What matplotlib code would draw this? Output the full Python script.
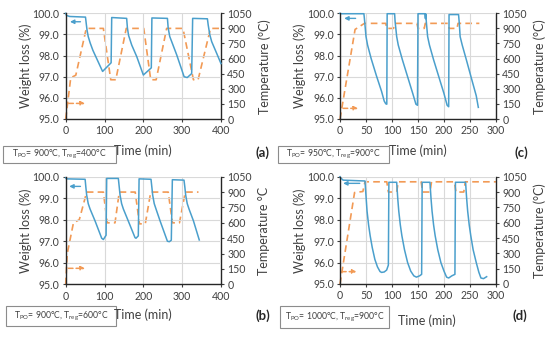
import matplotlib
matplotlib.use("Agg")
import matplotlib.pyplot as plt
from matplotlib.patches import Rectangle

plt.rcParams['font.family'] = ['Lato', 'DejaVu Sans']
plt.rcParams['mathtext.fontset'] = 'custom'
plt.rcParams['mathtext.rm'] = 'Lato'
plt.rcParams['mathtext.it'] = 'Lato:italic'

# ---------------- data ----------------
# (a) TPO=900, Treg=400
a_wt_t = [0, 2, 10, 51, 53, 55, 58, 63, 70, 80, 95, 117, 118.5, 157, 159, 162, 170, 183, 200, 220.5, 222,
          262, 264, 268, 273, 286, 305, 313, 324.5, 327, 365, 367, 371, 376, 389, 400]
a_wt = [100.0, 99.9, 99.85, 99.82, 99.5, 99.2, 98.9, 98.6, 98.25, 97.85, 97.25, 97.66, 99.8, 99.76, 99.3,
        98.95, 98.5, 97.95, 97.08, 97.42, 99.78, 99.76, 99.3, 98.9, 98.66, 98.03, 97.0, 96.96, 97.15, 99.76,
        99.74, 99.45, 99.0, 98.66, 98.1, 97.62]
a_temp_t = [0, 13, 26, 53, 97, 116, 129, 156, 201, 219, 233, 260, 302, 329, 341, 373, 400]
a_temp = [0, 410, 435, 900, 900, 390, 390, 900, 900, 390, 390, 900, 900, 390, 390, 900, 900]

# (b) TPO=900, Treg=600
b_wt_t = [0, 2, 50, 52, 54, 58, 62.7, 75.5, 92.7, 97, 104, 105.6, 135.6, 138, 140, 144, 148.5, 161, 178.5,
          181, 187, 189, 219.7, 222, 224, 228, 232.6, 243, 262, 267, 272, 274.7, 304.7, 307, 309, 313, 317.6,
          329, 344]
b_wt = [99.95, 99.9, 99.88, 99.5, 99.15, 98.75, 98.5, 97.95, 97.14, 97.08, 97.28, 99.92, 99.92, 99.5, 99.15,
        98.75, 98.5, 97.95, 97.17, 97.14, 97.25, 99.9, 99.88, 99.5, 99.15, 98.75, 98.5, 97.95, 97.0, 96.98,
        97.05, 99.86, 99.84, 99.5, 99.15, 98.75, 98.5, 97.95, 97.06]
b_temp_t = [0, 4, 20, 35, 54, 97, 107, 127, 138, 179, 190, 205, 219, 264, 275, 293, 308, 342]
b_temp = [0, 300, 600, 630, 900, 900, 600, 600, 900, 900, 590, 590, 900, 900, 600, 600, 900, 900]

# (c) TPO=950, Treg=900
c_wt_t = [0, 1, 46, 47.5, 50, 53, 60, 70, 80, 85, 88, 90, 90.7, 105, 106, 109, 112, 120, 130, 140, 146, 149,
          150, 163, 164.3, 165, 166, 168.5, 172, 180, 190, 200, 206, 209, 209.7, 228, 229.5, 231, 235, 243,
          253, 262, 266]
c_wt = [100.0, 99.98, 99.98, 99.6, 98.9, 98.5, 97.85, 97.05, 96.3, 95.85, 95.72, 95.7, 99.98, 99.98, 99.6,
        98.9, 98.5, 97.8, 97.0, 96.2, 95.7, 95.65, 99.98, 99.98, 99.75, 99.97, 99.6, 98.9, 98.5, 97.8, 97.0,
        96.2, 95.65, 95.58, 99.94, 99.94, 99.5, 98.9, 98.5, 97.8, 96.9, 96.1, 95.55]
c_temp_t = [0, 29, 47, 88, 90, 103, 105, 148, 150, 162, 164, 208, 210, 225, 227, 268]
c_temp = [0, 890, 950, 950, 900, 900, 950, 950, 900, 900, 950, 950, 900, 900, 950, 950]

# (d) TPO=1000, Treg=900
d_wt_t = [0, 1, 6, 48, 50, 52, 55, 58, 62, 67, 72, 77, 80, 85, 89.7, 93, 94, 109, 111, 113, 116, 119, 124,
          130, 136, 142, 147, 153, 157, 158, 173, 175, 177, 180, 183, 188, 194, 200, 205, 209, 215, 221, 222,
          241.5, 243.5, 245.5, 248.5, 251.5, 256, 262, 267, 271, 276, 282]
d_wt = [100.0, 99.95, 99.84, 99.8, 99.1, 98.4, 97.75, 97.25, 96.7, 96.15, 95.8, 95.58, 95.54, 95.56, 95.65,
        95.88, 99.74, 99.74, 99.0, 98.4, 97.75, 97.25, 96.6, 96.0, 95.6, 95.38, 95.32, 95.38, 95.45, 99.74,
        99.74, 99.0, 98.4, 97.75, 97.25, 96.6, 96.0, 95.6, 95.32, 95.28, 95.38, 95.45, 99.74, 99.74, 99.0,
        98.4, 97.75, 97.25, 96.6, 96.0, 95.55, 95.28, 95.25, 95.34]
d_temp_t = [0, 28, 44, 48, 90, 93, 109, 112, 156, 159, 173, 176, 220, 223, 238, 241, 300]
d_temp = [0, 895, 905, 1000, 1000, 900, 900, 1000, 1000, 900, 900, 1000, 1000, 900, 900, 1000, 1000]

# axis ticks
x_ticks_ab = [0, 100, 200, 300, 400]
x_ticks_cd = [0, 50, 100, 150, 200, 250, 300]
wt_ticks = [95.0, 96.0, 97.0, 98.0, 99.0, 100.0]
temp_ticks = [0, 150, 300, 450, 600, 750, 900, 1050]

# conditions text and panel tags
cond_a = r"T$_{\rm PO}$= 900°C, T$_{\rm reg}$=400°C"
cond_b = r"T$_{\rm PO}$= 900°C, T$_{\rm reg}$=600°C"
cond_c = r"T$_{\rm PO}$= 950°C, T$_{\rm reg}$=900°C"
cond_d = r"T$_{\rm PO}$= 1000°C, T$_{\rm reg}$=900°C"

# indicator arrows: (wt arrow: t_tail, t_head, wt), (temp arrow: t_tail, t_head, temp)
arr_a = [(38, 11, 99.6), (8, 50, 155)]
arr_b = [(38, 9, 99.55), (7, 50, 156)]
arr_c = [(30, 8, 99.76), (6, 35, 106)]
arr_d = [(38, 6, 99.69), (3, 32, 121)]

BLUE = '#4A9FCC'
ORANGE = '#F29A55'
TXT = '#404040'
GRID = '#D9D9D9'

W, H = 550, 340
fig = plt.figure(figsize=(5.5, 3.4), dpi=100)


def px_axes(l, t, r, b):
    return [l / W, 1 - b / H, (r - l) / W, (b - t) / H]


panels = [
    dict(rect=px_axes(65.7, 13.3, 221, 119), wt_t=a_wt_t, wt=a_wt, tt=a_temp_t, tv=a_temp, xt=x_ticks_ab,
         xmax=400, rlabel='Temperature (°C)', cond=cond_a, box=(3, 146, 116, 163), tag='(a)', tagpos=(262, 153),
         timepos=(143, 151), arr=arr_a),
    dict(rect=px_axes(65.7, 176.7, 221, 284.3), wt_t=b_wt_t, wt=b_wt, tt=b_temp_t, tv=b_temp, xt=x_ticks_ab,
         xmax=400, rlabel='Temperature °C', cond=cond_b, box=(6, 306, 116, 326), tag='(b)', tagpos=(263, 316),
         timepos=(143, 315), arr=arr_b),
    dict(rect=px_axes(340, 13.3, 496, 119), wt_t=c_wt_t, wt=c_wt, tt=c_temp_t, tv=c_temp, xt=x_ticks_cd,
         xmax=300, rlabel='Temperature (°C)', cond=cond_c, box=(278, 146, 389, 163), tag='(c)', tagpos=(521, 153),
         timepos=(418, 151), arr=arr_c),
    dict(rect=px_axes(340, 176.7, 496, 284), wt_t=d_wt_t, wt=d_wt, tt=d_temp_t, tv=d_temp, xt=x_ticks_cd,
         xmax=300, rlabel='Temperature (°C)', cond=cond_d, box=(280, 306, 389, 328), tag='(d)', tagpos=(520, 316),
         timepos=(427, 321), arr=arr_d),
]

for p in panels:
    ax = fig.add_axes(p['rect'])
    ax2 = ax.twinx()
    ax.set_zorder(ax2.get_zorder() + 1)
    ax.patch.set_visible(False)

    ax.set_xlim(0, p['xmax'])
    ax.set_ylim(95, 100)
    ax2.set_ylim(0, 1050)
    ax.set_xticks(p['xt'])
    ax.set_yticks(wt_ticks)
    ax.set_yticklabels([f"{v:.1f}" for v in wt_ticks])
    ax2.set_yticks(temp_ticks)
    ax.grid(True, color=GRID, lw=0.8)
    ax.set_axisbelow(True)

    for a in (ax, ax2):
        for s in a.spines.values():
            s.set_visible(False)
    ax.spines['left'].set_visible(True)
    ax.spines['bottom'].set_visible(True)
    ax2.spines['right'].set_visible(True)
    for s in (ax.spines['left'], ax.spines['bottom'], ax2.spines['right']):
        s.set_color('#262626')
        s.set_linewidth(1.0)
    ax.tick_params(axis='both', labelsize=7.6, colors=TXT, length=2.5, width=0.8, direction='out', pad=2)
    ax2.tick_params(axis='y', labelsize=7.6, colors=TXT, length=2.5, width=0.8, direction='out', pad=2)

    ax2.plot(p['tt'], p['tv'], color=ORANGE, lw=1.2, dashes=(4, 2.5), clip_on=False)
    ax.plot(p['wt_t'], p['wt'], color=BLUE, lw=1.1, clip_on=False)

    (bt0, bt1, bw), (ot0, ot1, ov) = p['arr']
    ax.annotate('', xy=(bt1, bw), xytext=(bt0, bw),
                arrowprops=dict(arrowstyle='-|>', color=BLUE, lw=1.0, mutation_scale=6, shrinkA=0, shrinkB=0))
    ax2.annotate('', xy=(ot1, ov), xytext=(ot0, ov),
                 arrowprops=dict(arrowstyle='-|>', color=ORANGE, lw=1.1, ls=(0, (3, 2)), mutation_scale=6,
                                 shrinkA=0, shrinkB=0))

    ax.set_ylabel('Weight loss (%)', fontsize=9, color=TXT)
    ax.yaxis.set_label_coords(-0.217, 0.5)
    ax2.set_ylabel(p['rlabel'], fontsize=9, color=TXT, rotation=90)
    ax2.yaxis.set_label_coords(1.24, 0.5)

    fig.text(p['timepos'][0] / W, 1 - p['timepos'][1] / H, 'Time (min)', fontsize=9, color=TXT,
             ha='center', va='center')
    fig.text(p['tagpos'][0] / W, 1 - p['tagpos'][1] / H, p['tag'], fontsize=9.5, fontweight='bold',
             color='#262626', ha='center', va='center')
    x0, y0, x1, y1 = p['box']
    fig.patches.append(Rectangle((x0 / W, 1 - y1 / H), (x1 - x0) / W, (y1 - y0) / H, transform=fig.transFigure,
                                 fill=False, edgecolor='#8C8C8C', lw=0.8))
    fig.text((x0 + x1) / 2 / W, 1 - (y0 + y1) / 2 / H, p['cond'], fontsize=6.2, color=TXT,
             ha='center', va='center')

fig.savefig('out.png', dpi=100)
